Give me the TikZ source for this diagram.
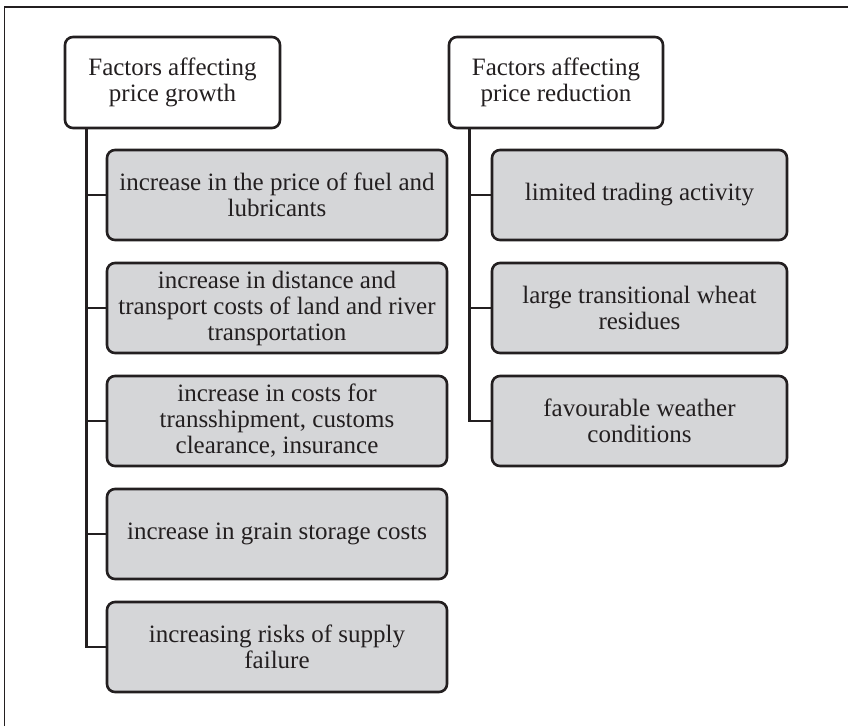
\documentclass[tikz,border=0pt]{standalone}
\usepackage{fontspec}
\setmainfont{Liberation Serif}
\definecolor{boxgray}{RGB}{213,214,216}
\definecolor{ink}{RGB}{35,31,32}
\tikzset{
  hdr/.style={draw=ink, line width=2.6pt, rounded corners=8pt, fill=white,
    minimum height=91pt, align=center, text=ink, inner sep=0pt,
    font=\fontsize{25}{26}\selectfont},
  item/.style={draw=ink, line width=2.6pt, rounded corners=8pt, fill=boxgray,
    minimum height=90pt, align=center, text=ink, inner sep=0pt,
    font=\fontsize{25}{26}\selectfont},
  link/.style={draw=ink, line width=2.6pt},
  frame/.style={draw=ink, line width=1.3pt}
}
\begin{document}
\begin{tikzpicture}[x=1pt,y=-1pt]
\useasboundingbox (0,0) rectangle (848,726);
\draw[frame] (4.5,726) -- (4.5,7) -- (848,7);
% left column
\node[hdr, minimum width=215pt] (hL) at (172.5,82.5) {Factors affecting\\price growth};
\node[item, minimum width=340pt] (l1) at (277,195) {increase in the price of fuel and\\lubricants};
\node[item, minimum width=340pt] (l2) at (277,308) {increase in distance and\\transport costs of land and river\\transportation};
\node[item, minimum width=340pt] (l3) at (277,421) {increase in costs for\\transshipment, customs\\clearance, insurance};
\node[item, minimum width=340pt] (l4) at (277,534) {increase in grain storage costs};
\node[item, minimum width=340pt] (l5) at (277,647) {increasing risks of supply\\failure};
% right column
\node[hdr, minimum width=214pt] (hR) at (556,82.5) {Factors affecting\\price reduction};
\node[item, minimum width=295pt] (r1) at (639.5,195) {limited trading activity};
\node[item, minimum width=295pt] (r2) at (639.5,308) {large transitional wheat\\residues};
\node[item, minimum width=295pt] (r3) at (639.5,421) {favourable weather\\conditions};
% connectors
\path (hL.south west) ++(22.5,0) coordinate (sL);
\path (hR.south west) ++(22,0) coordinate (sR);
\draw[link] (sL) |- (l5.west);
\foreach \n in {l1,l2,l3,l4} \draw[link] (sL |- \n.west) -- (\n.west);
\draw[link] (sR) |- (r3.west);
\foreach \n in {r1,r2} \draw[link] (sR |- \n.west) -- (\n.west);
\end{tikzpicture}
\end{document}
